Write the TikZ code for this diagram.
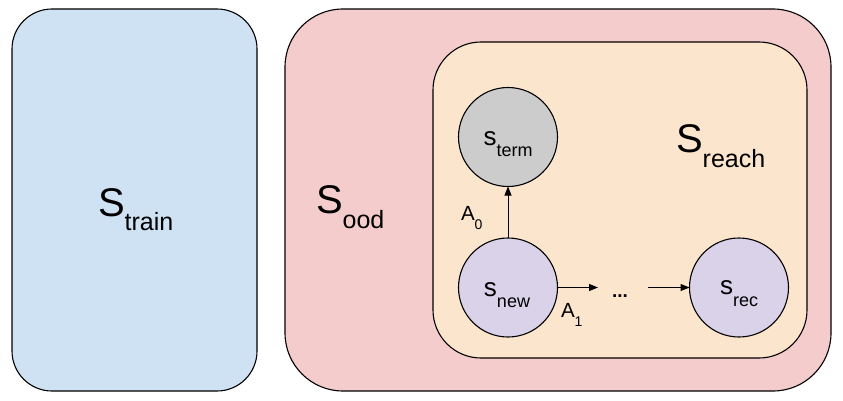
\documentclass[tikz,border=0pt]{standalone}
\usepackage{fontspec}
\setmainfont{Liberation Sans}
\usetikzlibrary{arrows.meta}
\definecolor{trainblue}{HTML}{CFE2F3}
\definecolor{oodpink}{HTML}{F4CCCC}
\definecolor{reachorange}{HTML}{FCE5CD}
\definecolor{termgray}{HTML}{CCCCCC}
\definecolor{statelav}{HTML}{D9D2E9}
\newcommand{\bigsetlab}[3]{\fontsize{40}{40}\selectfont #1\raisebox{-#3}{\fontsize{25}{25}\selectfont #2}}
\newcommand{\statelab}[3]{\fontsize{26}{26}\selectfont #1\raisebox{-#3}{\fontsize{18}{18}\selectfont #2}}
\newcommand{\actlab}[1]{\fontsize{20.5}{20.5}\selectfont A\raisebox{-9pt}{\fontsize{14}{14}\selectfont #1}}
\begin{document}
\begin{tikzpicture}[x=1pt,y=1pt,
  region/.style={draw=black, line width=1.1pt, inner sep=0pt, outer sep=0pt},
  statenode/.style={circle, draw=black, line width=1.1pt, minimum size=99pt, inner sep=0pt, outer sep=0pt},
  txt/.style={inner sep=0pt, outer sep=0pt, anchor=base west},
  ctxt/.style={inner sep=0pt, outer sep=0pt, anchor=base},
  arr/.style={line width=1pt, -{Triangle[length=9pt,width=7pt]}}]
\useasboundingbox (0,0) rectangle (843,400);
% regions
\node[region, fill=trainblue, minimum width=245pt, minimum height=382pt, rounded corners=40pt] (train) at (134.5,200) {};
\node[region, fill=oodpink, minimum width=546pt, minimum height=382pt, rounded corners=58pt] (ood) at (558,200) {};
\node[region, fill=reachorange, minimum width=374pt, minimum height=316pt, rounded corners=48pt] (reach) at (620,200) {};
% set labels
\node[txt] (ltrain) at (98,184) {\bigsetlab{S}{train}{14pt}};
\node[txt] (lood) at (316,187) {\bigsetlab{S}{ood}{15pt}};
\node[txt] (lreach) at (676,248) {\bigsetlab{S}{reach}{15pt}};
% states
\node[statenode, fill=termgray] (term) at (508,263) {};
\node[statenode, fill=statelav] (new) at (508,112.5) {};
\node[statenode, fill=statelav] (rec) at (739,112.5) {};
\node[ctxt] (lterm) at ([yshift=-8pt]term.center) {\statelab{s}{term}{11pt}};
\node[ctxt] (lnew) at ([xshift=-1pt,yshift=-8.5pt]new.center) {\statelab{s}{new}{11pt}};
\node[ctxt] (lrec) at ([yshift=-7pt]rec.center) {\statelab{s}{rec}{12pt}};
% connectors
\coordinate (dotsin) at (598,112.5);
\coordinate (dotsout) at (648,112.5);
\draw[arr] (new) -- (term);
\draw[arr] (new.east) -- (dotsin);
\draw[arr] (dotsout) -- (rec.west);
% action labels
\node[txt] (la0) at (461,180) {\actlab{0}};
\node[txt] (la1) at (561,83) {\actlab{1}};
\node[txt] (dots) at (612,103) {\fontsize{19}{19}\selectfont\bfseries ...};
\end{tikzpicture}
\end{document}
